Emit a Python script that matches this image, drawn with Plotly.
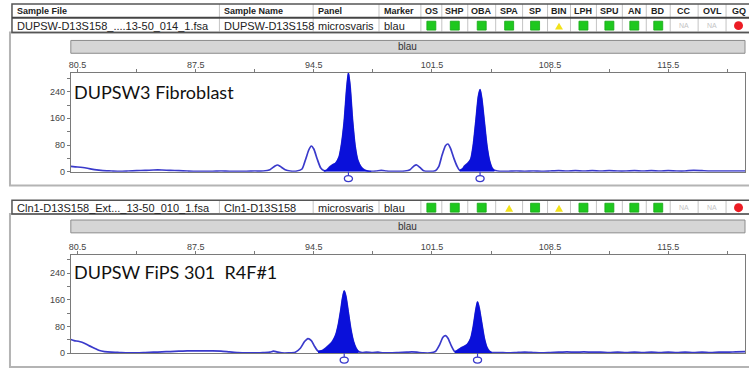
import plotly.graph_objects as go

W, H = 749, 374

# ---------------- data ----------------
text_columns = ["Sample File", "Sample Name", "Panel", "Marker"]
flag_columns = ["OS", "SHP", "OBA", "SPA", "SP", "BIN", "LPH", "SPU", "AN", "BD", "CC", "OVL", "GQ"]

p1_row = ["DUPSW-D13S158_....13-50_014_1.fsa", "DUPSW-D13S158", "microsvaris", "blau"]
p1_flags = ["G", "G", "G", "G", "G", "Y", "G", "G", "G", "G", "NA", "NA", "R"]
p2_row = ["Cln1-D13S158_Ext..._13-50_010_1.fsa", "Cln1-D13S158", "microsvaris", "blau"]
p2_flags = ["G", "G", "G", "Y", "G", "Y", "G", "G", "G", "G", "NA", "NA", "R"]

dye_label = "blau"
x_tickvals = [80.5, 87.5, 94.5, 101.5, 108.5, 115.5]
x_minor = [84, 91, 98, 105, 112, 119]
y_tickvals = [0, 80, 160, 240]
y_minor = [40, 120, 200, 280]
x_range = [80.1, 120.05]
y_range = [0, 296]

p1_label = "DUPSW3 Fibroblast"
p1_x = [80.1, 80.5, 81.0, 81.5, 82.0, 82.5, 83.0, 83.5, 84.0, 84.5, 85.0, 85.5, 86.0, 86.5, 87.0,
        87.5, 88.0, 88.5, 89.0, 89.5, 90.0, 90.5, 91.0, 91.5, 91.9, 92.2, 92.35, 92.5, 92.8, 93.1,
        93.5, 93.8, 94.0, 94.2, 94.35, 94.5, 94.7, 94.9, 95.1, 95.25, 95.4, 95.6, 95.8, 96.0,
        96.15, 96.3, 96.45, 96.55, 96.65, 96.8, 96.95, 97.1, 97.3, 97.5, 97.7, 97.9, 98.2, 98.5,
        98.8, 99.1, 99.5, 99.9, 100.2, 100.45, 100.6, 100.8, 101.0, 101.3, 101.7, 101.9, 102.1,
        102.3, 102.45, 102.6, 102.8, 103.0, 103.15, 103.3, 103.45, 103.6, 103.8, 103.95, 104.1,
        104.25, 104.35, 104.45, 104.6, 104.75, 104.9, 105.05, 105.2, 105.4, 105.7, 106.0, 106.5,
        107.0, 107.5, 108.0, 108.5, 109.0, 109.5, 110.0, 110.5, 111.0, 111.5, 112.0, 112.5, 113.0,
        113.5, 114.0, 114.5, 115.0, 115.5, 116.0, 116.5, 117.0, 117.5, 118.0, 118.5, 119.0, 119.5,
        120.05]
p1_y = [16, 14, 11, 6, 3, 2, 1, 2, 3, 4, 5, 5, 4, 3, 2,
        1, 1, 1, 2, 1, 1, 1, 2, 2, 6, 17, 20, 16, 6, 2,
        2, 8, 35, 65, 77, 68, 38, 12, 3, 4, 12, 20, 26, 45,
        85, 150, 250, 296, 255, 150, 75, 35, 14, 5, 2, 1, 2, 4,
        2, 1, 1, 2, 6, 18, 20, 12, 3, 1, 3, 15, 50,
        78, 83, 70, 40, 15, 4, 8, 18, 24, 38, 80, 150,
        225, 246, 220, 150, 80, 35, 12, 4, 2, 1, 1, 2,
        1, 2, 1, 2, 3, 2, 3, 2, 3, 2, 3, 2, 2,
        3, 2, 3, 2, 3, 2, 2, 4, 3, 2, 2, 2, 2,
        2]
p1_fill_ranges = [(95.1, 97.9), (103.15, 105.2)]
p1_bins = [96.55, 104.35]

p2_label = "DUPSW FiPS 301  R4F#1"
p2_x = [80.1, 80.3, 80.6, 80.9, 81.2, 81.5, 81.8, 82.1, 82.5, 83.0, 83.5, 84.0, 84.5, 85.0,
        85.5, 86.0, 86.5, 87.0, 87.5, 88.0, 88.5, 89.0, 89.5, 90.0, 90.5, 91.0, 91.5, 91.9,
        92.1, 92.3, 92.6, 93.0, 93.4, 93.7, 93.95, 94.15, 94.35, 94.55, 94.75, 95.0, 95.2,
        95.4, 95.6, 95.8, 95.95, 96.1, 96.2, 96.3, 96.4, 96.55, 96.7, 96.85, 97.0, 97.15,
        97.35, 97.6, 98.0, 98.3, 98.6, 99.0, 99.5, 100.0, 100.3, 100.6, 101.0, 101.4, 101.7,
        101.95, 102.15, 102.3, 102.45, 102.65, 102.85, 103.0, 103.2, 103.4, 103.6, 103.8,
        103.95, 104.1, 104.2, 104.3, 104.45, 104.6, 104.75, 104.9, 105.05, 105.5, 106.0,
        106.5, 107.0, 107.5, 108.0, 108.5, 109.0, 109.5, 110.0, 110.5, 111.0, 111.5, 112.0,
        112.5, 113.0, 113.5, 114.0, 114.5, 115.0, 115.5, 116.0, 116.5, 117.0, 117.5, 118.0,
        118.5, 119.0, 119.5, 120.05]
p2_y = [41, 38, 35, 30, 22, 15, 8, 5, 3, 2, 1, 1, 2, 3,
        4, 5, 6, 7, 7, 7, 7, 6, 4, 2, 1, 1, 2, 3,
        6, 4, 1, 1, 3, 15, 35, 44, 38, 20, 6, 8, 15,
        24, 35, 55, 85, 130, 165, 187, 170, 120, 70, 35, 15, 5,
        2, 3, 2, 3, 1, 1, 2, 3, 4, 3, 1, 1, 5,
        25, 48, 53, 45, 22, 5, 8, 15, 20, 27, 45,
        80, 130, 154, 135, 90, 45, 18, 6, 2, 2, 1,
        2, 3, 2, 1, 2, 3, 4, 3, 4, 3, 3, 2,
        3, 2, 3, 2, 3, 2, 3, 2, 3, 2, 3, 2,
        3, 3, 4, 5]
p2_fill_ranges = [(94.75, 97.2), (102.85, 105.05)]
p2_bins = [96.3, 104.2]

# ---------------- layout geometry (pixels) ----------------
col_edges = [10, 218, 312, 378, 420, 441, 467, 495, 522, 547, 570, 596, 622, 646, 670, 698, 726, 751]

panels = [
    dict(label=p1_label, x=p1_x, y=p1_y, fills=p1_fill_ranges, bins=p1_bins, row=p1_row,
         flags=p1_flags, header=True, table_top=4, header_bottom=18, row_bottom=33,
         bar_top=41, bar_bottom=54, plot_top=74, plot_bottom=174, box_bottom=188,
         label_y=93, xa="x", ya="y"),
    dict(label=p2_label, x=p2_x, y=p2_y, fills=p2_fill_ranges, bins=p2_bins, row=p2_row,
         flags=p2_flags, header=False, table_top=203, header_bottom=203, row_bottom=217,
         bar_top=223, bar_bottom=236, plot_top=258, plot_bottom=358, box_bottom=372,
         label_y=276, xa="x2", ya="y2"),
]

PLOT_L, PLOT_R = 69, 745


def px(x):
    return x / W


def py(y):
    return 1 - y / H


LINE_BLUE = "#3a3acb"
FILL_BLUE = "#0a10da"
FONT = "Liberation Sans, Arial, sans-serif"

fig = go.Figure()
shapes = []
annotations = []

for i, p in enumerate(panels):
    # outline trace
    fig.add_trace(go.Scatter(x=p["x"], y=p["y"], mode="lines", xaxis=p["xa"], yaxis=p["ya"],
                             line=dict(color=LINE_BLUE, width=1.7, shape="spline", smoothing=0.6),
                             hoverinfo="skip", showlegend=False))
    # filled called peaks
    for (a, b) in p["fills"]:
        fx = [xv for xv in p["x"] if a <= xv <= b]
        fy = [yv for xv, yv in zip(p["x"], p["y"]) if a <= xv <= b]
        fig.add_trace(go.Scatter(x=fx, y=fy, mode="lines", xaxis=p["xa"], yaxis=p["ya"],
                                 fill="tozeroy", fillcolor=FILL_BLUE,
                                 line=dict(color=FILL_BLUE, width=1, shape="spline", smoothing=0.6),
                                 hoverinfo="skip", showlegend=False))

    # outer panel box
    shapes.append(dict(type="rect", xref="paper", yref="paper", x0=px(8), x1=px(W + 5),
                       y0=py(p["box_bottom"]), y1=py(p["row_bottom"]),
                       line=dict(color="#b4b4b4", width=2), fillcolor="rgba(0,0,0,0)", layer="below"))

    # table
    top = p["table_top"]
    hb = p["header_bottom"]
    rb = p["row_bottom"]
    for e in col_edges[1:-1]:
        shapes.append(dict(type="line", xref="paper", yref="paper", x0=px(e), x1=px(e),
                           y0=py(top), y1=py(rb), line=dict(color="#c4c4c4", width=1)))
    shapes.append(dict(type="rect", xref="paper", yref="paper", x0=px(col_edges[0]), x1=px(W + 2),
                       y0=py(rb), y1=py(top), line=dict(color="#555", width=1.5),
                       fillcolor="rgba(0,0,0,0)"))
    if p["header"]:
        shapes.append(dict(type="line", xref="paper", yref="paper", x0=px(col_edges[0]), x1=px(W + 2),
                           y0=py(hb), y1=py(hb), line=dict(color="#444", width=2)))
        hy = (top + hb) / 2 + 0.5
        for j, name in enumerate(text_columns):
            annotations.append(dict(xref="paper", yref="paper", x=px(col_edges[j] + 3), y=py(hy),
                                    text="<b>" + name + "</b>", showarrow=False, xanchor="left",
                                    yanchor="middle", font=dict(family=FONT, size=9, color="#222")))
        for j, name in enumerate(flag_columns):
            cx = (col_edges[4 + j] + col_edges[5 + j]) / 2
            annotations.append(dict(xref="paper", yref="paper", x=px(cx), y=py(hy),
                                    text="<b>" + name + "</b>", showarrow=False, xanchor="center",
                                    yanchor="middle", font=dict(family=FONT, size=9, color="#222")))
    ry = (hb + rb) / 2 + 0.5
    for j, val in enumerate(p["row"]):
        annotations.append(dict(xref="paper", yref="paper", x=px(col_edges[j] + 3), y=py(ry),
                                text=val, showarrow=False, xanchor="left", yanchor="middle",
                                font=dict(family=FONT, size=11, color="#222")))
    for j, fl in enumerate(p["flags"]):
        cx = (col_edges[4 + j] + col_edges[5 + j]) / 2
        if fl == "G":
            shapes.append(dict(type="rect", xref="paper", yref="paper", x0=px(cx - 4.5), x1=px(cx + 4.5),
                               y0=py(ry + 4.5), y1=py(ry - 4.5), line=dict(color="#16a816", width=0.8),
                               fillcolor="#1ec81e"))
        elif fl == "Y":
            shapes.append(dict(type="path", xref="paper", yref="paper",
                               path="M {} {} L {} {} L {} {} Z".format(px(cx - 4), py(ry + 4), px(cx + 4),
                                                                        py(ry + 4), px(cx), py(ry - 3)),
                               line=dict(width=0), fillcolor="#f2e21a"))
        elif fl == "R":
            shapes.append(dict(type="circle", xref="paper", yref="paper", x0=px(cx - 4.5), x1=px(cx + 4.5),
                               y0=py(ry + 4.5), y1=py(ry - 4.5), line=dict(width=0), fillcolor="#ec1c24"))
        else:
            annotations.append(dict(xref="paper", yref="paper", x=px(cx), y=py(ry), text=fl,
                                    showarrow=False, xanchor="center", yanchor="middle",
                                    font=dict(family=FONT, size=7, color="#c4c4c4")))

    # dye bar
    shapes.append(dict(type="rect", xref="paper", yref="paper", x0=px(PLOT_L), x1=px(PLOT_R),
                       y0=py(p["bar_bottom"]), y1=py(p["bar_top"]),
                       line=dict(color="#8c8c8c", width=1), fillcolor="#d6d6d6"))
    annotations.append(dict(xref="paper", yref="paper", x=px((PLOT_L + PLOT_R) / 2),
                            y=py((p["bar_top"] + p["bar_bottom"]) / 2), text=dye_label, showarrow=False,
                            xanchor="center", yanchor="middle", font=dict(family=FONT, size=10, color="#333")))

    # sample label
    annotations.append(dict(xref="paper", yref="paper", x=px(70), y=py(p["label_y"]), text=p["label"],
                            showarrow=False, xanchor="left", yanchor="middle",
                            font=dict(family="Lato, Noto Sans, sans-serif", size=18, color="#111")))

    # bin markers
    for b in p["bins"]:
        shapes.append(dict(type="line", xref=p["xa"], yref="paper", x0=b, x1=b,
                           y0=py(p["plot_bottom"]), y1=py(p["plot_bottom"] + 4),
                           line=dict(color=LINE_BLUE, width=1.2)))
        shapes.append(dict(type="circle", xref=p["xa"], yref="paper", x0=b - 0.24, x1=b + 0.24,
                           y0=py(p["plot_bottom"] + 10), y1=py(p["plot_bottom"] + 4),
                           line=dict(color=LINE_BLUE, width=1.3), fillcolor="white"))

axis_common = dict(showline=True, linecolor="#7a7a7a", linewidth=1, mirror=True, showgrid=False,
                   zeroline=False, ticklen=3, tickcolor="#7a7a7a",
                   tickfont=dict(family=FONT, size=9, color="#444"), fixedrange=True)

layout_axes = {}
for i, p in enumerate(panels):
    xname = "xaxis" if i == 0 else "xaxis2"
    yname = "yaxis" if i == 0 else "yaxis2"
    layout_axes[xname] = dict(axis_common, domain=[px(PLOT_L), px(PLOT_R)], range=x_range,
                              side="top", ticks="outside", tickmode="array", tickvals=x_tickvals,
                              ticktext=[str(v) for v in x_tickvals], ticklabelstandoff=-3,
                              minor=dict(tickmode="array", tickvals=x_minor, ticks="outside",
                                         ticklen=3, tickcolor="#7a7a7a"),
                              anchor=p["ya"])
    layout_axes[yname] = dict(axis_common, domain=[py(p["plot_bottom"]), py(p["plot_top"])],
                              range=y_range, ticks="outside", tickmode="array", tickvals=y_tickvals,
                              ticktext=[str(v) for v in y_tickvals],
                              minor=dict(tickmode="array", tickvals=y_minor, ticks="outside",
                                         ticklen=3, tickcolor="#7a7a7a"),
                              anchor=p["xa"])

fig.update_layout(width=W, height=H, margin=dict(l=0, r=0, t=0, b=0),
                  paper_bgcolor="white", plot_bgcolor="white", showlegend=False,
                  shapes=shapes, annotations=annotations, **layout_axes)

fig.write_html("out.html", config={"displayModeBar": False, "staticPlot": True},
               post_script="document.body.style.margin='0';document.body.style.overflow='hidden';")
